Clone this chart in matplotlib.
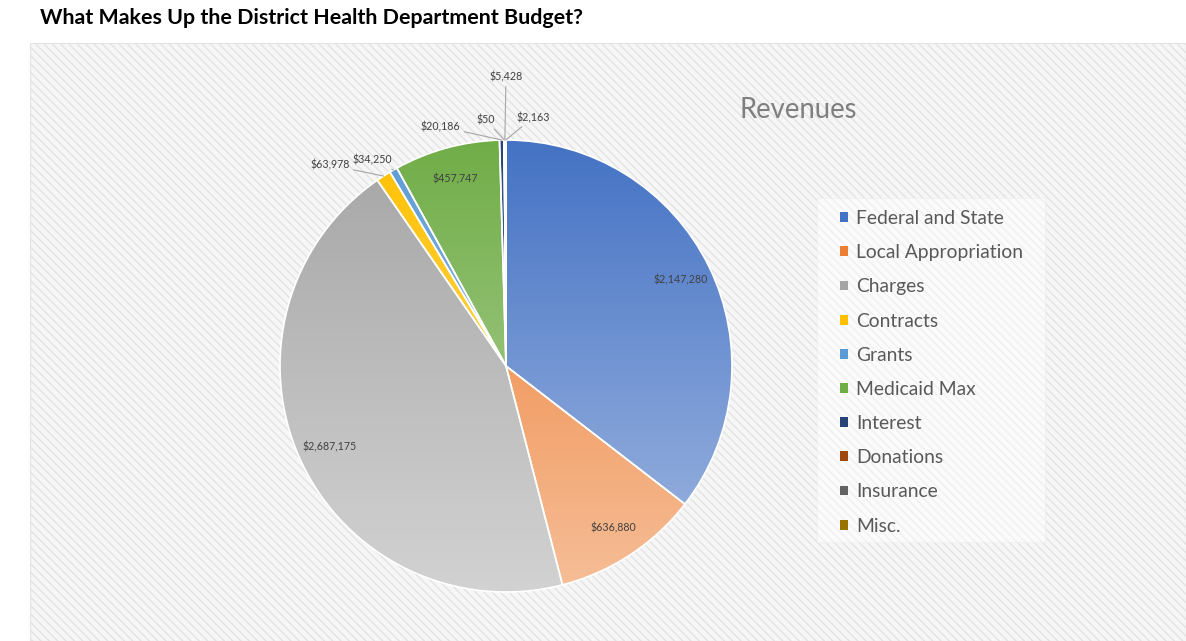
import numpy as np
import matplotlib
matplotlib.use("Agg")
import matplotlib.pyplot as plt
from matplotlib.patches import Rectangle, Patch
from matplotlib.colors import LinearSegmentedColormap, to_rgb

plt.rcParams["font.family"] = ["Lato", "DejaVu Sans"]
plt.rcParams["hatch.linewidth"] = 1.0

# revenue sources, in pie order (clockwise from 12 o'clock)
categories = ["Federal and State", "Local Appropriation", "Charges", "Contracts",
              "Grants", "Medicaid Max", "Interest", "Donations", "Insurance", "Misc."]
amounts = [2147280, 636880, 2687175, 63978, 34250, 457747, 20186, 50, 5428, 2163]
colors = ["#4472C4", "#ED7D31", "#A5A5A5", "#FFC000", "#5B9BD5",
          "#70AD47", "#264478", "#9E480E", "#636363", "#997300"]

# big slices get their label inside; the thin ones get a leader line
inside = [True, True, True, False, False, True, False, False, False, False]
# label position (x, y) for the outside labels, in pie-radius units
outside_pos = {3: (-0.78, 0.89), 4: (-0.59, 0.91), 6: (-0.29, 1.06),
               7: (-0.09, 1.09), 8: (0.0, 1.28), 9: (0.12, 1.10)}

W, H = 1186, 641
fig = plt.figure(figsize=(W / 100, H / 100), dpi=100)
fig.patch.set_facecolor("white")

# chart area with the diagonal texture
bg = Rectangle((30 / W, 0), 1 - 30 / W, (H - 43) / H, transform=fig.transFigure,
               facecolor="#F6F6F6", edgecolor="#E3E3E3", hatch="\\\\\\\\", linewidth=0.8,
               zorder=-2)
fig.patches.append(bg)

# lighter box behind the legend
legbox = Rectangle((817 / W, 1 - 542 / H), (1045 - 817) / W, (542 - 198) / H,
                   transform=fig.transFigure, facecolor="#FBFBFB", edgecolor="#F0F0F0",
                   hatch="\\\\\\\\", linewidth=0.6, zorder=-1)
fig.patches.append(legbox)

fig.text(40 / W, 1 - 18 / H, "What Makes Up the District Health Department Budget?",
         fontsize=15.4, fontweight="bold", color="black", ha="left", va="center")

# pie axes: centre at (506, 366) px, radius 226 px
R = 226
half = 1.35
ax = fig.add_axes([(506 - half * R) / W, (H - 366 - half * R) / H,
                   2 * half * R / W, 2 * half * R / H])
ax.set_facecolor("none")

wedges, _ = ax.pie(amounts, startangle=90, counterclock=False, radius=1,
                   wedgeprops=dict(edgecolor="white", linewidth=1.2, zorder=3))
for w in wedges:
    w.set_facecolor("none")

# vertical gradient fill: base colour at top, lighter toward the bottom
grad = np.linspace(0, 1, 256).reshape(-1, 1)
for w, c in zip(wedges, colors):
    base = np.array(to_rgb(c))
    light = base + 0.5 * (1 - base)
    cmap = LinearSegmentedColormap.from_list("g", [base, light])
    im = ax.imshow(grad, extent=(-1, 1, -1, 1), origin="upper", cmap=cmap,
                   aspect="auto", zorder=2, interpolation="bilinear")
    im.set_clip_path(w)

ax.set_xlim(-half, half)
ax.set_ylim(-half, half)
ax.set_aspect("equal")
ax.axis("off")

label_color = "#404040"
for i, (w, amt) in enumerate(zip(wedges, amounts)):
    mid = np.deg2rad((w.theta1 + w.theta2) / 2)
    text = f"${amt:,}"
    if inside[i]:
        r = 0.86
        ax.text(r * np.cos(mid), r * np.sin(mid), text, fontsize=7.7,
                color=label_color, ha="center", va="center", zorder=5)
    else:
        tx, ty = outside_pos[i]
        ax.annotate(text, xy=(np.cos(mid), np.sin(mid)), xytext=(tx, ty),
                    fontsize=7.7, color=label_color, ha="center", va="center",
                    arrowprops=dict(arrowstyle="-", color="#A6A6A6", lw=0.8,
                                    shrinkA=1, shrinkB=0), zorder=5)

fig.text(798 / W, 1 - 110 / H, "Revenues", fontsize=19.8, color="#7F7F7F",
         ha="center", va="center")

handles = [Patch(facecolor=c, edgecolor="none") for c in colors]
leg = fig.legend(handles, categories, loc="upper left",
                 bbox_to_anchor=(840 / W, 1 - 210 / H),
                 borderaxespad=0, borderpad=0, fontsize=13.9, labelcolor="#595959",
                 handlelength=0.4, handleheight=0.4, handletextpad=0.45,
                 labelspacing=0.89, frameon=False)

fig.savefig("out.png", dpi=100)
